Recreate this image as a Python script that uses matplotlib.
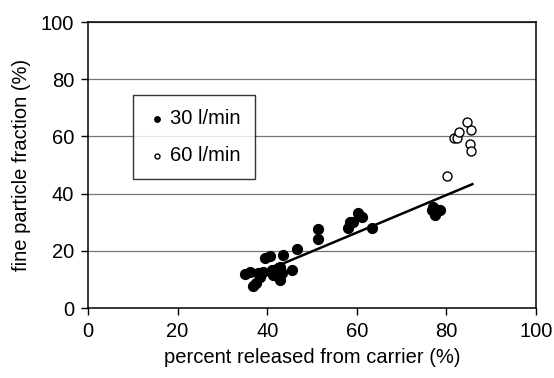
import matplotlib
matplotlib.use("Agg")
import matplotlib.pyplot as plt
import numpy as np

# 30 l/min (filled)
x30 = [35.0, 36.2, 36.9, 37.6, 38.0, 38.4, 39.1, 39.5, 40.6, 41.0, 41.4,
       42.9, 43.6, 42.9, 43.2, 42.5, 45.5, 46.6, 51.4, 51.4,
       58.1, 58.5, 59.2, 60.3, 61.1, 63.5,
       76.7, 77.1, 77.5, 77.8, 78.6]
y30 = [11.8, 12.7, 7.7, 8.6, 12.1, 10.9, 12.7, 17.4, 18.2, 13.3, 11.5,
       14.4, 18.5, 9.8, 12.1, 13.9, 13.3, 20.5, 27.5, 24.0,
       27.9, 30.2, 30.2, 33.1, 31.7, 27.9,
       34.3, 35.4, 32.5, 34.3, 34.3]

# 60 l/min (open)
x60 = [80.2, 81.7, 82.4, 82.9, 84.5, 85.5, 85.3, 85.6]
y60 = [46.3, 59.6, 59.3, 61.7, 65.1, 62.2, 57.2, 54.9]

# trend line end points
trend_x = [43.6, 85.8]
trend_y = [15.6, 43.3]

ticks = [0, 20, 40, 60, 80, 100]

plt.rcParams["font.family"] = ["Liberation Sans", "DejaVu Sans"]

fig = plt.figure(figsize=(5.54, 3.78), dpi=100)
ax = fig.add_axes([88 / 554, 70 / 378, 448 / 554, 286 / 378])

for yv in ticks[1:]:
    ax.axhline(yv, color="#777777", linewidth=0.9, zorder=1)

ax.plot(trend_x, trend_y, color="black", linewidth=1.8, zorder=2)
ax.scatter(x30, y30, s=50, color="black", zorder=3, label="30 l/min")
ax.scatter(x60, y60, s=42, facecolor="white", edgecolor="black",
           linewidth=1.0, zorder=3, label="60 l/min")

ax.set_xlim(0, 100)
ax.set_ylim(0, 100)
ax.set_xticks(ticks)
ax.set_yticks(ticks)
ax.tick_params(direction="out", length=5, width=1, labelsize=14.5, pad=5)
for s in ax.spines.values():
    s.set_linewidth(1.1)

ax.set_xlabel("percent released from carrier (%)", fontsize=14.5, labelpad=5)
ax.set_ylabel("fine particle fraction (%)", fontsize=14.5, labelpad=7)

leg = ax.legend(loc="upper left", bbox_to_anchor=(45 / 448, 213 / 286),
                frameon=True, fancybox=False, markerscale=0.55,
                fontsize=14.5, handletextpad=0.15, borderpad=0.7,
                labelspacing=0.9, handlelength=1.0, borderaxespad=0)
leg.get_frame().set_edgecolor("black")
leg.get_frame().set_linewidth(1.0)

fig.savefig("out.png", dpi=100)
